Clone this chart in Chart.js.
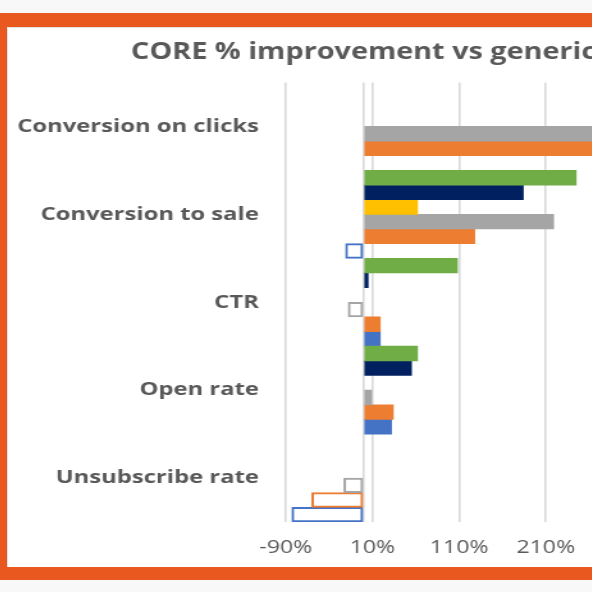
<!DOCTYPE html>
<html>
<head>
<meta charset="utf-8">
<script src="https://cdn.jsdelivr.net/npm/chart.js@4.4.1/dist/chart.umd.min.js"></script>
<style>
  html, body { margin: 0; padding: 0; width: 592px; height: 592px; overflow: hidden; background: #f8f8f8; }
  #frame { position: absolute; left: 0; top: 13px; width: 900px; height: 540px;
           border-left: 7px solid #E9581F; border-top: 14px solid #E9581F; border-bottom: 13px solid #E9581F;
           background: #ffffff; }
  #inner { position: absolute; left: 0; top: 0; width: 890px; height: 539px;
           border-left: 1px solid #e2e2e2; border-top: 1px solid #e2e2e2; }
  #wrap { position: absolute; left: 0; top: 0; width: 566px; height: 539px;
          transform: scaleX(1.28); transform-origin: 0 0; }
  canvas { display: block; }
</style>
</head>
<body>
<div id="frame"><div id="inner"><div id="wrap"><canvas id="c" width="566" height="539"></canvas></div></div></div>
<script>
const categories = ['Conversion on clicks', 'Conversion to sale', 'CTR', 'Open rate', 'Unsubscribe rate'];
const tickValues = [-90, 10, 110, 210, 310];

const seriesNames = ['Series 6', 'Series 5', 'Series 4', 'Series 3', 'Series 2', 'Series 1'];
const greenValues  = [null, 245, 108, 62, null];
const navyValues   = [null, 184, 5, 55, null];
const yellowValues = [null, 62, null, null, null];
const grayValues   = [285, 219, -18, 9, -23];
const orangeValues = [285, 128, 19, 34, -60];
const blueValues   = [null, -21, 19, 32, -83];

const seriesValues = [greenValues, navyValues, yellowValues, grayValues, orangeValues, blueValues];
const seriesColors = ['#70AD47', '#002060', '#FFC000', '#A5A5A5', '#ED7D31', '#4472C4'];

const datasets = seriesValues.map((vals, i) => ({
  label: seriesNames[i],
  data: vals,
  backgroundColor: ctx => (ctx.raw !== null && ctx.raw < 0) ? '#ffffff' : seriesColors[i],
  borderColor: seriesColors[i],
  borderWidth: ctx => (ctx.raw !== null && ctx.raw < 0) ? 2 : 0,
  borderSkipped: false,
  categoryPercentage: 1.0,
  barPercentage: 1.0
}));

new Chart(document.getElementById('c'), {
  type: 'bar',
  data: { labels: categories, datasets },
  options: {
    indexAxis: 'y',
    responsive: false,
    animation: false,
    layout: { padding: { top: 0, right: 10.4, bottom: 0, left: 0 } },
    plugins: {
      legend: { display: false },
      tooltip: { enabled: false },
      title: {
        display: true,
        text: 'CORE % improvement vs generic',
        color: '#595959',
        font: { family: 'Open Sans', size: 22.5, weight: 'bold' },
        padding: { top: 11, bottom: 16.5 }
      }
    },
    scales: {
      x: {
        type: 'linear',
        min: -90,
        max: 410,
        afterBuildTicks: scale => {
          const t = tickValues.map(v => ({ value: v }));
          t.push({ value: 0 });
          t.sort((a, b) => a.value - b.value);
          scale.ticks = t;
        },
        afterFit: scale => { scale.height = 45; },
        ticks: {
          autoSkip: false,
          maxRotation: 0,
          color: '#595959',
          font: { family: 'Open Sans', size: 18 },
          padding: 15,
          callback: v => v === 0 ? '' : v + '%'
        },
        grid: { color: '#d9d9d9', lineWidth: 1.6, drawTicks: false },
        border: { display: false }
      },
      y: {
        afterFit: scale => { scale.width = 217; },
        ticks: {
          color: '#595959',
          font: { family: 'Open Sans', size: 18.6, weight: 'bold' },
          padding: 21
        },
        grid: { display: false, drawTicks: false },
        border: { display: false }
      }
    }
  }
});
</script>
</body>
</html>
